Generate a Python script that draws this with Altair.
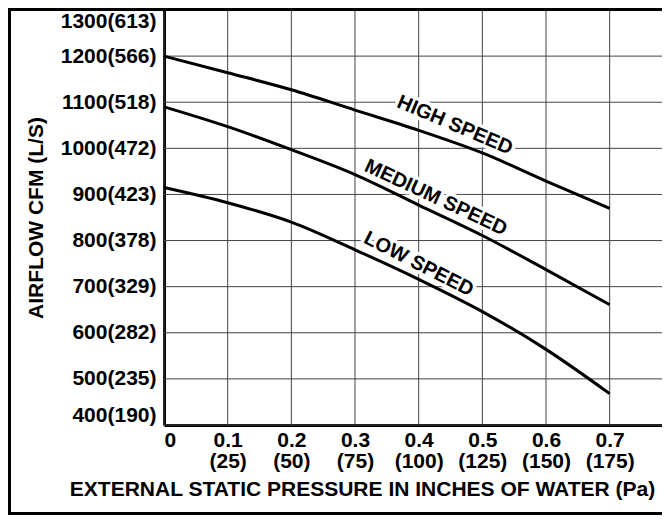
import altair as alt
import pandas as pd

# ---- data ----
pressure = [0.0, 0.1, 0.2, 0.3, 0.4, 0.5, 0.6, 0.7]
high_speed = [1200, 1164, 1127, 1083, 1039, 990, 929, 870]
medium_speed = [1090, 1047, 997, 943, 877, 811, 737, 661]
low_speed = [915, 882, 840, 780, 716, 646, 564, 468]

x_ticks = [0.0, 0.1, 0.2, 0.3, 0.4, 0.5, 0.6, 0.7]
x_tick_line1 = ["0", "0.1", "0.2", "0.3", "0.4", "0.5", "0.6", "0.7"]
x_tick_line2 = ["", "(25)", "(50)", "(75)", "(100)", "(125)", "(150)", "(175)"]

y_ticks = [400, 500, 600, 700, 800, 900, 1000, 1100, 1200, 1300]
y_tick_labels = ["400(190)", "500(235)", "600(282)", "700(329)", "800(378)",
                 "900(423)", "1000(472)", "1100(518)", "1200(566)", "1300(613)"]

curve_names = ["HIGH SPEED", "MEDIUM SPEED", "LOW SPEED"]
# annotation placement (data coords) and text angle
curve_label_x = [0.457, 0.427, 0.400]
curve_label_y = [1050, 893, 749]
curve_label_angle = [23, 25, 27]

FONT = "Liberation Sans"

rows = []
for name, vals in zip(["High", "Medium", "Low"], [high_speed, medium_speed, low_speed]):
    for p, v in zip(pressure, vals):
        rows.append({"pressure": p, "cfm": v, "speed": name})
df = pd.DataFrame(rows)

lab_df = pd.DataFrame({"x": curve_label_x, "y": curve_label_y,
                       "label": curve_names, "angle": curve_label_angle})
xgrid_df = pd.DataFrame({"pressure": x_ticks})
ygrid_df = pd.DataFrame({"cfm": y_ticks})


def js_str(s):
    return "'" + s.replace("'", "\\'") + "'"


x_label_items = []
for a, b in zip(x_tick_line1, x_tick_line2):
    if b:
        x_label_items.append("[" + js_str(a) + "," + js_str(b) + "]")
    else:
        x_label_items.append(js_str(a))
x_label_expr = "[" + ",".join(x_label_items) + "][round(datum.value*10)]"
y_label_expr = "[" + ",".join(js_str(s) for s in y_tick_labels) + "][round((datum.value-400)/100)]"

W = 498
H = 415
PAD_L = 156
PAD_T = 2
TOTAL_H = 507

x_scale = alt.Scale(domain=[0, 0.7822], nice=False, zero=False)
y_scale = alt.Scale(domain=[400, 1300], nice=False, zero=False)

x_enc = alt.X(
    "pressure:Q",
    scale=x_scale,
    axis=alt.Axis(
        values=x_ticks,
        grid=False,
        labelExpr=x_label_expr,
        title="EXTERNAL STATIC PRESSURE IN INCHES OF WATER (Pa)",
        titleX=198,
        titleY=64,
        titleAlign="center",
        titleBaseline="middle",
        labelPadding=4,
        labelLineHeight=21,
        labelBaseline="top",
    ),
)
y_enc = alt.Y(
    "cfm:Q",
    scale=y_scale,
    axis=alt.Axis(
        values=y_ticks,
        grid=False,
        labelExpr=y_label_expr,
        title="AIRFLOW CFM (L/S)",
        titleX=-128,
        titleBaseline="middle",
        labelPadding=8,
        labelFlush=True,
    ),
)

vgrid = alt.Chart(xgrid_df).mark_rule(color="#444444", strokeWidth=1).encode(
    x=alt.X("pressure:Q", scale=x_scale), y=alt.value(0), y2=alt.value(H)
)
hgrid = alt.Chart(ygrid_df).mark_rule(color="#444444", strokeWidth=1).encode(
    y=alt.Y("cfm:Q", scale=y_scale), x=alt.value(0), x2=alt.value(W)
)

lines = alt.Chart(df).mark_line(
    color="black", strokeWidth=3, interpolate="monotone"
).encode(x=x_enc, y=y_enc, detail="speed:N")

halo = alt.Chart(lab_df).mark_text(
    font=FONT, fontSize=20, fontWeight="bold", color="white",
    stroke="white", strokeWidth=7, strokeJoin="round",
    align="center", baseline="middle",
).encode(x="x:Q", y="y:Q", text="label:N", angle=alt.Angle("angle:Q", scale=None))

text = alt.Chart(lab_df).mark_text(
    font=FONT, fontSize=20, fontWeight="bold", color="black",
    align="center", baseline="middle",
).encode(x="x:Q", y="y:Q", text="label:N", angle=alt.Angle("angle:Q", scale=None))

frame = alt.Chart(pd.DataFrame({"k": [0]})).mark_rect(
    filled=False, stroke="black", strokeWidth=3
).encode(
    x=alt.value(1.5 - PAD_L),
    x2=alt.value(W + 20),
    y=alt.value(1.5 - PAD_T),
    y2=alt.value(TOTAL_H - 1.5 - PAD_T),
)

chart = alt.layer(vgrid, hgrid, lines, halo, text, frame).properties(
    width=W,
    height=H,
    autosize=alt.AutoSizeParams(type="none"),
    padding={"left": PAD_L, "top": PAD_T, "right": 0, "bottom": TOTAL_H - PAD_T - H},
).configure_view(
    stroke=None
).configure_axis(
    labelFont=FONT,
    labelFontSize=21,
    labelFontWeight="bold",
    labelColor="black",
    titleFont=FONT,
    titleFontSize=21,
    titleFontWeight="bold",
    titleColor="black",
    domainColor="black",
    domainWidth=3,
    ticks=False,
    labelOverlap=False,
    labelBound=False,
)

chart.save("out.html", embed_options={"renderer": "svg", "actions": False})
